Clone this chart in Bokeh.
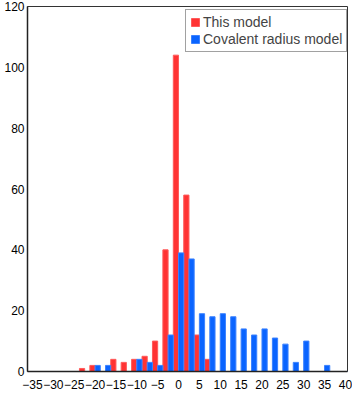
from bokeh.plotting import figure
from bokeh.models import ColumnDataSource, FixedTicker, Legend, LegendItem
from bokeh.transform import dodge
from bokeh.embed import file_html
from bokeh.resources import INLINE

# Bin centres (deviation, %) and counts
bins = [-35, -32.5, -30, -27.5, -25, -22.5, -20, -17.5, -15, -12.5, -10, -7.5, -5, -2.5,
        0, 2.5, 5, 7.5, 10, 12.5, 15, 17.5, 20, 22.5, 25, 27.5, 30, 32.5, 35, 37.5, 40]
this_model = [0, 0, 0, 0, 0, 1, 2, 0, 4, 3, 4, 5, 10, 40,
              104, 58, 12, 4, 0, 0, 0, 0, 0, 0, 0, 0, 0, 0, 0, 0, 0]
covalent_model = [0, 0, 0, 0, 0, 0, 2, 2, 0, 0, 4, 3, 2, 12,
                  39, 37, 19, 18, 19, 18, 14, 12, 14, 11, 9, 3, 10, 0, 2, 0, 0]
x_ticks = [-35, -30, -25, -20, -15, -10, -5, 0, 5, 10, 15, 20, 25, 30, 35, 40]
y_ticks = [0, 20, 40, 60, 80, 100, 120]
series_names = ["This model", "Covalent radius model"]

src = ColumnDataSource(data=dict(x=bins, a=this_model, b=covalent_model))

p = figure(width=352, height=393, output_backend="svg", toolbar_location=None,
           x_range=(-36.2, 40.5), y_range=(0, 120),
           min_border_left=27, min_border_right=5, min_border_top=6, min_border_bottom=22)

bw = 1.25
r1 = p.vbar(x=dodge("x", -bw / 2, range=p.x_range), top="a", width=bw, source=src,
            fill_color="#ff3333", line_color="#ff5a5a", line_width=1)
r2 = p.vbar(x=dodge("x", bw / 2, range=p.x_range), top="b", width=bw, source=src,
            fill_color="#0a64ff", line_color="#3b82ff", line_width=1)

p.xgrid.visible = False
p.ygrid.visible = False
p.outline_line_color = "#333333"
p.outline_line_width = 1
p.background_fill_color = "white"
p.border_fill_color = "white"

for ax in (p.xaxis[0], p.yaxis[0]):
    ax.major_tick_line_color = None
    ax.minor_tick_line_color = None
    ax.major_tick_out = 0
    ax.major_tick_in = 0
    ax.axis_line_color = "#222222"
    ax.axis_line_width = 1.5
    ax.major_label_text_font = "Liberation Sans"
    ax.major_label_text_font_size = "12px"
    ax.major_label_text_color = "black"

p.xaxis.ticker = FixedTicker(ticks=x_ticks)
p.yaxis.ticker = FixedTicker(ticks=y_ticks)
p.xaxis.major_label_standoff = 8
p.yaxis.major_label_standoff = 3

legend = Legend(items=[LegendItem(label=series_names[0], renderers=[r1]),
                       LegendItem(label=series_names[1], renderers=[r2])],
                location=(158, 319))
legend.padding = 4
legend.spacing = 1
legend.margin = 0
legend.glyph_width = 10
legend.glyph_height = 10
legend.label_height = 13
legend.label_standoff = 3
legend.label_text_font = "Liberation Sans"
legend.label_text_font_size = "14px"
legend.label_text_line_height = 1.0
legend.border_line_color = "#444444"
legend.border_line_width = 1
legend.background_fill_alpha = 1
p.add_layout(legend, "center")

open("out.html", "w").write(file_html(p, INLINE))
